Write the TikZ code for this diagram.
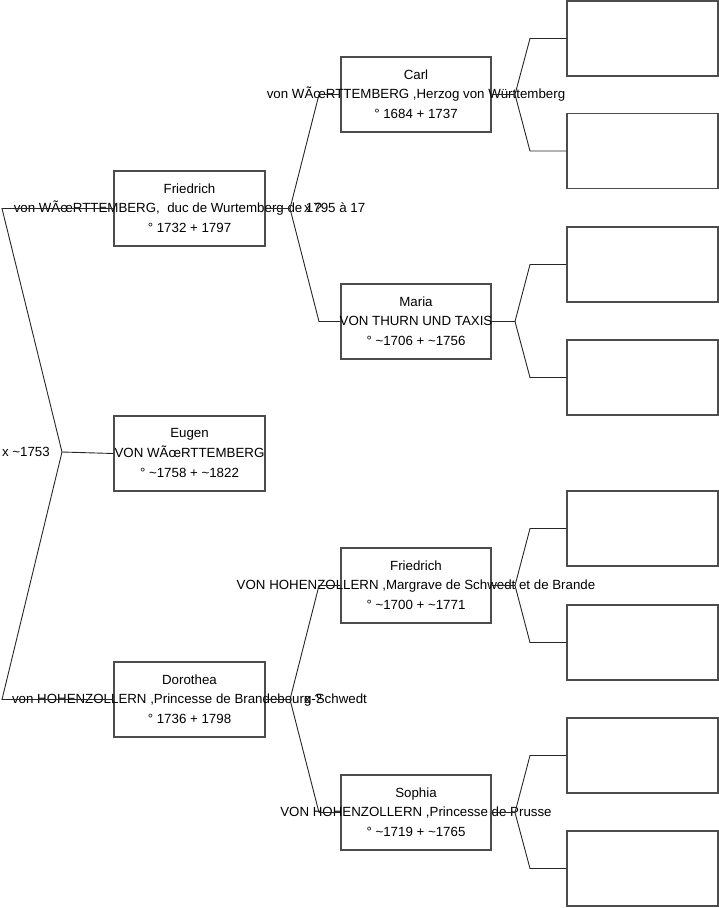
\documentclass[tikz,border=0pt]{standalone}
\usepackage{fontspec}
\setmainfont{Liberation Sans}
\newcommand\tl{\textasciitilde}
\newcommand\ppl[3]{\raisebox{1pt}{\makebox[0pt]{#1}}\\\raisebox{1pt}{\makebox[0pt]{#2}}\\\raisebox{1pt}{\makebox[0pt]{#3}}}
\begin{document}
\begin{tikzpicture}[x=1pt,y=-1pt,
  every node/.style={font=\fontsize{13.3}{19.8}\selectfont, inner sep=0pt},
  person/.style={draw=black!70, line width=1.3pt, align=center, minimum height=75pt, fill=none},
  leftcol/.style={person, minimum width=151pt},
  midcol/.style={person, minimum width=150pt},
  rightcol/.style={person, minimum width=151pt},
  conn/.style={draw=black!85, line width=0.9pt},
  lbl/.style={font=\fontsize{13.3}{15}\selectfont}]
\useasboundingbox (0,0) rectangle (719,908);
% left column
\node[leftcol] (fr) at (189.5,208.5) {\ppl{Friedrich}{von WÃœRTTEMBERG,\ \ duc de Wurtemberg de 1795 à 17}{° 1732 + 1797}};
\node[leftcol] (eu) at (189.5,453.5) {\ppl{Eugen}{VON WÃœRTTEMBERG}{° \tl1758 + \tl1822}};
\node[leftcol] (do) at (189.5,699.5) {\ppl{Dorothea}{von HOHENZOLLERN ,Princesse de Brandebourg-Schwedt}{° 1736 + 1798}};
% middle column
\node[midcol] (ca) at (416,94.5) {\ppl{Carl}{von WÃœRTTEMBERG ,Herzog von Württemberg}{° 1684 + 1737}};
\node[midcol] (ma) at (416,321.5) {\ppl{Maria}{VON THURN UND TAXIS}{° \tl1706 + \tl1756}};
\node[midcol] (fz) at (416,585.5) {\ppl{Friedrich}{VON HOHENZOLLERN ,Margrave de Schwedt et de Brande}{° \tl1700 + \tl1771}};
\node[midcol] (so) at (416,812.5) {\ppl{Sophia}{VON HOHENZOLLERN ,Princesse de Prusse}{° \tl1719 + \tl1765}};
% right column (empty)
\node[rightcol] (r1) at (642.5,38.5) {};
\node[rightcol] (r2) at (642.5,151) {};
\node[rightcol] (r3) at (642.5,264.5) {};
\node[rightcol] (r4) at (642.5,377.5) {};
\node[rightcol] (r5) at (642.5,528.5) {};
\node[rightcol] (r6) at (642.5,642.5) {};
\node[rightcol] (r7) at (642.5,755.5) {};
\node[rightcol] (r8) at (642.5,868.5) {};
% marriage labels
\node[lbl, anchor=east] (m0) at (50,451.5) {x \tl1753};
\node[lbl, anchor=west] (m1) at (304,207.5) {x ?};
\node[lbl, anchor=west] (m2) at (304,698.5) {x ?};
% coordinates
\coordinate (rv) at (62,452);
\coordinate (ra) at (2,208.5);
\coordinate (rb) at (2,699.5);
\coordinate (fv) at (290,208.5);
\coordinate (fa) at (319,94.5);
\coordinate (fb) at (319,321.5);
\coordinate (dv) at (290,699.5);
\coordinate (da) at (319,585.5);
\coordinate (db) at (319,812.5);
\coordinate (cv) at (515,94.5);
\coordinate (ca1) at (530,38.5);
\coordinate (ca2) at (530,151);
\coordinate (mv) at (515,321.5);
\coordinate (ma1) at (530,264.5);
\coordinate (ma2) at (530,377.5);
\coordinate (zv) at (515,585.5);
\coordinate (za1) at (530,528.5);
\coordinate (za2) at (530,642.5);
\coordinate (sv) at (515,812.5);
\coordinate (sa1) at (530,755.5);
\coordinate (sa2) at (530,868.5);
% connectors
\draw[conn] (fr.west) -- (ra) -- (rv) -- (rb) -- (do.west);
\draw[conn] (rv) -- (eu.west);
\draw[conn] (fr.east) -- (fv) -- (fa) -- (ca.west);
\draw[conn] (fv) -- (fb) -- (ma.west);
\draw[conn] (do.east) -- (dv) -- (da) -- (fz.west);
\draw[conn] (dv) -- (db) -- (so.west);
\draw[conn] (ca.east) -- (cv) -- (ca1) -- (r1.west);
\draw[conn] (cv) -- (ca2) -- (r2.west);
\draw[conn] (ma.east) -- (mv) -- (ma1) -- (r3.west);
\draw[conn] (mv) -- (ma2) -- (r4.west);
\draw[conn] (fz.east) -- (zv) -- (za1) -- (r5.west);
\draw[conn] (zv) -- (za2) -- (r6.west);
\draw[conn] (so.east) -- (sv) -- (sa1) -- (r7.west);
\draw[conn] (sv) -- (sa2) -- (r8.west);
\end{tikzpicture}
\end{document}
